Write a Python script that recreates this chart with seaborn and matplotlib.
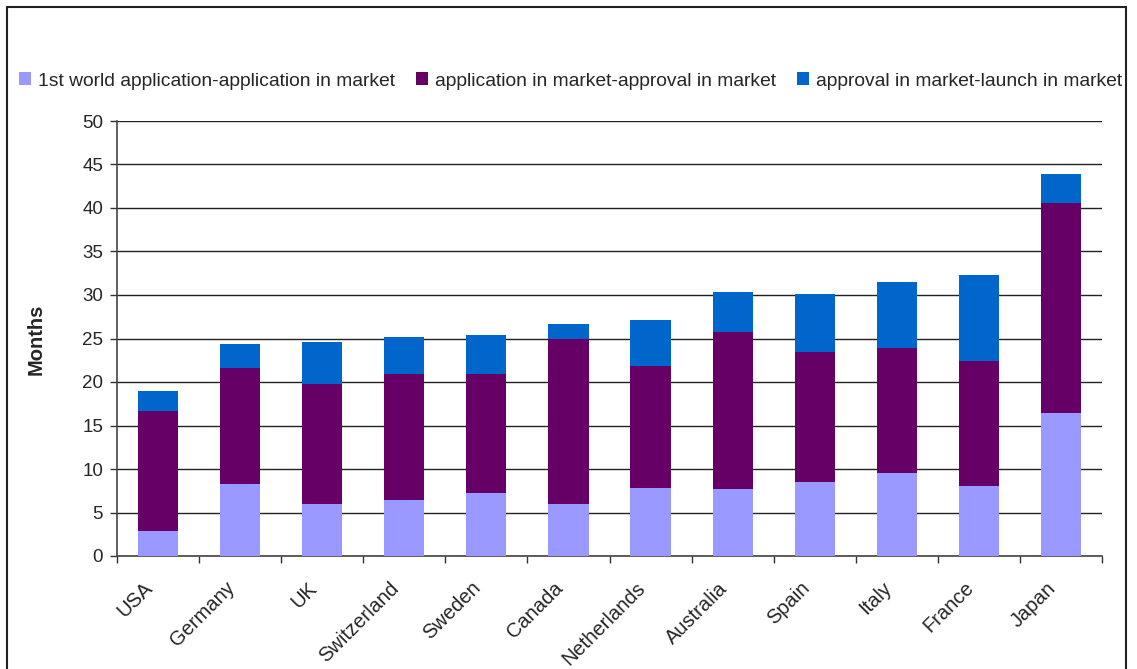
import numpy as np
import pandas as pd
import seaborn as sns
import matplotlib.pyplot as plt
from matplotlib.patches import Patch, Rectangle

# data (months)
countries = ["USA", "Germany", "UK", "Switzerland", "Sweden", "Canada",
             "Netherlands", "Australia", "Spain", "Italy", "France", "Japan"]
first_to_application = [2.9, 8.25, 5.95, 6.4, 7.2, 5.95, 7.8, 7.65, 8.5, 9.5, 8.0, 16.4]
application_to_approval = [13.75, 13.35, 13.8, 14.5, 13.7, 19.0, 14.0, 18.05, 14.95, 14.4, 14.4, 24.15]
approval_to_launch = [2.3, 2.75, 4.85, 4.25, 4.5, 1.7, 5.3, 4.6, 6.65, 7.6, 9.9, 3.35]

series_names = ["1st world application-application in market",
                "application in market-approval in market",
                "approval in market-launch in market"]
colors = ["#9999FF", "#660066", "#0066CC"]

df = pd.DataFrame({"country": countries,
                   "s1": first_to_application,
                   "s2": application_to_approval,
                   "s3": approval_to_launch})
df["c1"] = df["s1"]
df["c2"] = df["s1"] + df["s2"]
df["c3"] = df["c2"] + df["s3"]

sns.set_style("white")
plt.rcParams["font.family"] = ["Liberation Sans", "DejaVu Sans"]

fig = plt.figure(figsize=(11.37, 6.69), dpi=100)
ax = fig.add_axes([117 / 1137, 1 - 556 / 669, (1102 - 117) / 1137, (556 - 121) / 669])

# stacked bars: draw cumulative totals from the top segment down
for col, c in zip(["c3", "c2", "c1"], colors[::-1]):
    sns.barplot(data=df, x="country", y=col, color=c, width=0.49,
                saturation=1, ax=ax, zorder=3, linewidth=0)

ax.set_ylim(0, 50)
ax.set_xlim(-0.5, len(countries) - 0.5)
ax.set_yticks(np.arange(0, 51, 5))
ax.yaxis.grid(True, color="#222222", linewidth=1)
ax.set_axisbelow(True)

# ticks between categories, labels slightly left of bar centres
ax.set_xticks(np.arange(-0.5, len(countries), 1))
ax.set_xticklabels([])
ax.set_xticks(np.arange(len(countries)) - 0.1, minor=True)
ax.set_xticklabels(countries, minor=True, rotation=45, ha="right", va="center",
                   rotation_mode="anchor", fontsize=14.5)
ax.tick_params(axis="x", which="minor", length=0, pad=21)
ax.tick_params(axis="x", which="major", length=5, width=1, color="#333333",
               direction="out", bottom=True)
ax.tick_params(axis="y", length=5, width=1, color="#333333", direction="out",
               left=True, labelsize=13.5, pad=5)

ax.set_xlabel("")
ax.set_ylabel("")
for side in ["top", "right"]:
    ax.spines[side].set_visible(False)
for side in ["left", "bottom"]:
    ax.spines[side].set_color("#444444")
    ax.spines[side].set_linewidth(1.2)

fig.text(36 / 1137, 1 - 339 / 669, "Months", rotation=90, fontsize=14.5,
         fontweight="bold", ha="center", va="center")

handles = [Patch(facecolor=c, edgecolor="none") for c in colors]
fig.legend(handles, series_names, loc="center left",
           bbox_to_anchor=(11 / 1137, 1 - 81 / 669), ncol=3, frameon=False,
           fontsize=13.9, handlelength=0.62, handleheight=0.62,
           handletextpad=0.4, columnspacing=1.05, borderaxespad=0)

# outer chart border
fig.patches.append(Rectangle((7 / 1137, -0.05), (1126 - 7) / 1137, 1.05 - 7 / 669,
                             transform=fig.transFigure, fill=False,
                             edgecolor="#222222", linewidth=1.5))

fig.savefig("out.png", dpi=100)
